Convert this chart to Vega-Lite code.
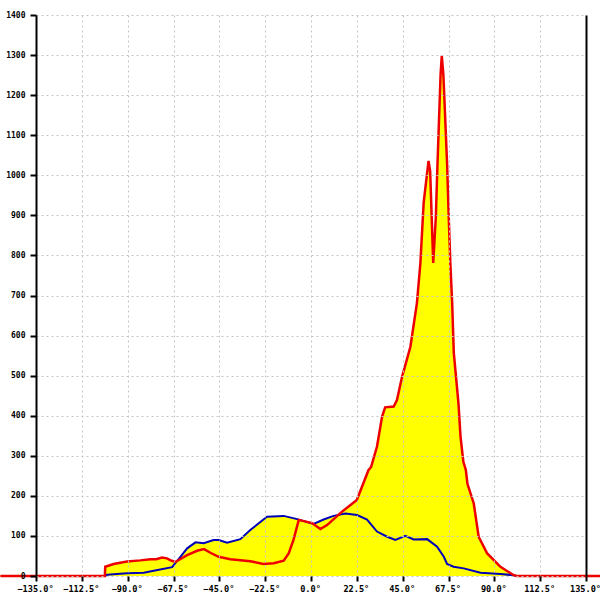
{
  "$schema": "https://vega.github.io/schema/vega-lite/v6.json",
  "width": 550,
  "height": 561,
  "padding": {"left": 36, "top": 15, "right": 14, "bottom": 24},
  "autosize": {"type": "none"},
  "background": "white",
  "config": {"view": {"stroke": null}},
  "datasets": {
    "red": [
      {"deg": -152.5, "v": 0}, {"deg": -101.2, "v": 0}, {"deg": -101, "v": 23},
      {"deg": -96.9, "v": 30}, {"deg": -90.3, "v": 36}, {"deg": -83.8, "v": 39},
      {"deg": -78.8, "v": 42}, {"deg": -76, "v": 42}, {"deg": -73.1, "v": 46},
      {"deg": -70.7, "v": 44}, {"deg": -68.4, "v": 38}, {"deg": -66.6, "v": 35},
      {"deg": -60.8, "v": 52}, {"deg": -55.9, "v": 63}, {"deg": -52.5, "v": 67},
      {"deg": -49.4, "v": 58}, {"deg": -45.3, "v": 48}, {"deg": -39.6, "v": 42},
      {"deg": -29.8, "v": 37}, {"deg": -23.4, "v": 30}, {"deg": -18.3, "v": 32},
      {"deg": -13.4, "v": 38}, {"deg": -10.9, "v": 57}, {"deg": -8.6, "v": 90},
      {"deg": -6, "v": 140},
      {"deg": 0.5, "v": 132}, {"deg": 4.6, "v": 117}, {"deg": 7.9, "v": 127},
      {"deg": 14.4, "v": 157}, {"deg": 22.5, "v": 190}, {"deg": 28.2, "v": 264},
      {"deg": 29.5, "v": 272}, {"deg": 32.4, "v": 323}, {"deg": 34.9, "v": 398},
      {"deg": 36.4, "v": 421}, {"deg": 40.6, "v": 423}, {"deg": 42.2, "v": 439},
      {"deg": 44.7, "v": 497}, {"deg": 48.8, "v": 572}, {"deg": 52, "v": 681},
      {"deg": 53.7, "v": 781}, {"deg": 55.3, "v": 931}, {"deg": 57.7, "v": 1036},
      {"deg": 58.5, "v": 1010}, {"deg": 60, "v": 781}, {"deg": 61.3, "v": 897},
      {"deg": 62, "v": 1013}, {"deg": 63.6, "v": 1250}, {"deg": 64.2, "v": 1298},
      {"deg": 65, "v": 1250}, {"deg": 66.8, "v": 1030}, {"deg": 67.6, "v": 897},
      {"deg": 68.4, "v": 781}, {"deg": 69.3, "v": 681}, {"deg": 70.1, "v": 557},
      {"deg": 72.4, "v": 430}, {"deg": 73.4, "v": 348}, {"deg": 74.8, "v": 285},
      {"deg": 76, "v": 265}, {"deg": 76.8, "v": 230}, {"deg": 79.9, "v": 181},
      {"deg": 82.3, "v": 98}, {"deg": 86.4, "v": 57}, {"deg": 93, "v": 23},
      {"deg": 99.5, "v": 2}, {"deg": 101, "v": 0}, {"deg": 142, "v": 0}
    ],
    "blue": [
      {"deg": -101, "v": 0}, {"deg": -100.1, "v": 3}, {"deg": -90.3, "v": 7},
      {"deg": -82.1, "v": 8}, {"deg": -77.2, "v": 13}, {"deg": -68.2, "v": 22},
      {"deg": -64.1, "v": 48}, {"deg": -60.8, "v": 69}, {"deg": -56.7, "v": 84},
      {"deg": -52.7, "v": 82}, {"deg": -47.8, "v": 90}, {"deg": -45.3, "v": 90},
      {"deg": -41.2, "v": 83}, {"deg": -34.7, "v": 92}, {"deg": -29.8, "v": 115},
      {"deg": -21.6, "v": 148}, {"deg": -13.4, "v": 150}, {"deg": -6.8, "v": 142},
      {"deg": 1.3, "v": 130}, {"deg": 6.2, "v": 141}, {"deg": 11.1, "v": 150},
      {"deg": 16.9, "v": 156}, {"deg": 22.6, "v": 152}, {"deg": 27.5, "v": 141},
      {"deg": 32.4, "v": 111}, {"deg": 37.4, "v": 98}, {"deg": 41.4, "v": 90},
      {"deg": 46.3, "v": 100}, {"deg": 50.4, "v": 91}, {"deg": 57, "v": 92},
      {"deg": 61.9, "v": 73}, {"deg": 65.2, "v": 48}, {"deg": 66.8, "v": 30},
      {"deg": 70, "v": 23}, {"deg": 75, "v": 19}, {"deg": 83.2, "v": 8},
      {"deg": 93, "v": 5}, {"deg": 99.4, "v": 2}, {"deg": 100.8, "v": 0}
    ]
  },
  "encoding": {
    "x": {
      "field": "deg", "type": "quantitative",
      "scale": {"domain": [-135, 135], "nice": false, "zero": false},
      "axis": {
        "title": null,
        "values": [-135, -112.5, -90, -67.5, -45, -22.5, 0, 22.5, 45, 67.5, 90, 112.5, 135],
        "labelExpr": "format(datum.value, '.1f') + '°'",
        "labelFont": "DejaVu Sans Mono", "labelFontSize": 8.6, "labelFontWeight": "bold", "labelColor": "#000000",
        "labelPadding": 3, "labelFlush": false, "labelOverlap": false, "labelOffset": -1,
        "domain": false, "ticks": true, "tickColor": "#000000", "tickSize": 5, "tickWidth": 2,
        "grid": true, "gridColor": "#c4c4c4", "gridDash": [2, 3], "gridWidth": 1,
        "zindex": 1
      }
    },
    "y": {
      "field": "v", "type": "quantitative",
      "scale": {"domain": [0, 1400], "nice": false}
    }
  },
  "resolve": {"axis": {"y": "independent"}},
  "layer": [
    {
      "data": {"name": "red"},
      "mark": {"type": "area", "color": "#ffff00", "clip": false},
      "encoding": {
        "y": {
          "field": "v", "type": "quantitative",
          "scale": {"domain": [0, 1400], "nice": false},
          "axis": {
            "title": null, "orient": "left", "format": "d",
            "values": [0, 100, 200, 300, 400, 500, 600, 700, 800, 900, 1000, 1100, 1200, 1300, 1400],
            "labelFont": "DejaVu Sans Mono", "labelFontSize": 8, "labelFontWeight": "bold", "labelColor": "#000000",
            "labelPadding": 5, "labelFlush": false, "labelOverlap": false,
            "domain": true, "domainColor": "#000000", "domainWidth": 2,
            "ticks": true, "tickColor": "#000000", "tickSize": 6, "tickWidth": 2,
            "grid": true, "gridColor": "#c4c4c4", "gridDash": [2, 3], "gridWidth": 1,
            "zindex": 1
          }
        }
      }
    },
    {
      "data": {"name": "blue"},
      "mark": {"type": "area", "color": "#ffff00"},
      "encoding": {"y": {"field": "v", "type": "quantitative", "axis": null}}
    },
    {
      "data": {"name": "blue"},
      "mark": {"type": "line", "color": "#0000bb", "strokeWidth": 2},
      "encoding": {"y": {"field": "v", "type": "quantitative", "axis": null}}
    },
    {
      "data": {"name": "red"},
      "mark": {"type": "line", "color": "#ee0000", "strokeWidth": 2.5, "clip": false},
      "encoding": {
        "y": {
          "field": "v", "type": "quantitative",
          "axis": {
            "orient": "right", "title": null, "labels": false, "ticks": false, "grid": false,
            "domain": true, "domainColor": "#000000", "domainWidth": 2, "zindex": 2
          }
        }
      }
    }
  ]
}
